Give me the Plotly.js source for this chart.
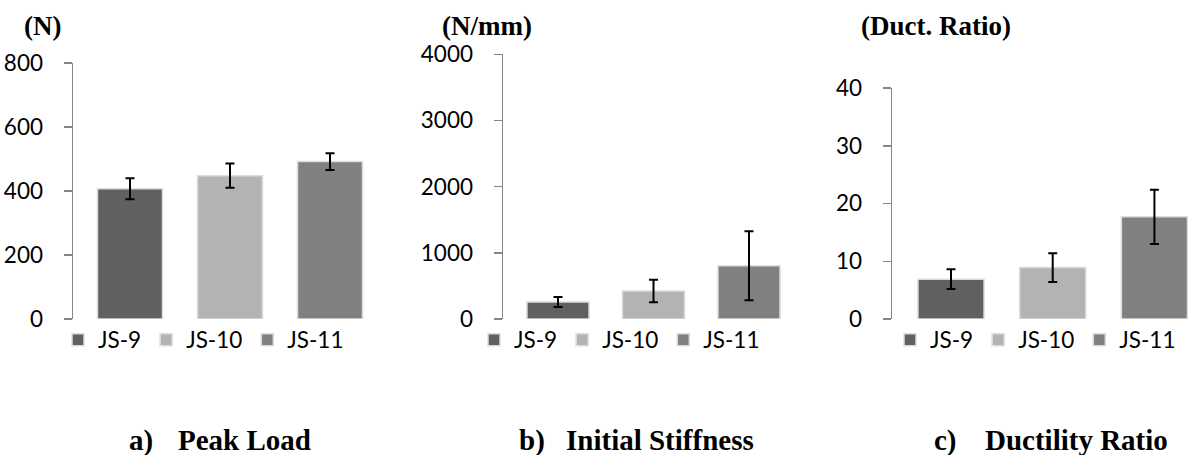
<!DOCTYPE html>
<html><head><meta charset="utf-8">
<script src="https://cdn.plot.ly/plotly-3.0.1.min.js"></script>
<style>html,body{margin:0;padding:0;background:#fff}#chart{width:1188px;height:455px}</style>
</head><body><div id="chart"></div>
<script>
// ---- data ----
const specimens = ['JS-9', 'JS-10', 'JS-11'];
const peakLoad = [407, 448, 492];
const peakLoadErr = [33, 38, 26];
const stiffness = [258, 425, 805];
const stiffnessErr = [76, 170, 522];
const ductility = [6.9, 8.9, 17.7];
const ductilityErr = [1.7, 2.5, 4.7];
const unitLabels = ['(N)', '(N/mm)', '(Duct. Ratio)'];
const captionLetters = ['a)', 'b)', 'c)'];
const captionNames = ['Peak Load', 'Initial Stiffness', 'Ductility Ratio'];
const yMax = [800, 4000, 40];
const yStep = [200, 1000, 10];

// ---- styles / layout ----
const W = 1188, H = 455;
const barColors = ['#606060', '#b3b3b3', '#808080'];
const tickFont = {family: 'Lato, "Open Sans", sans-serif', size: 22.5, color: '#000'};
const serif = 'Liberation Serif, "Times New Roman", serif';
const axisColor = '#868686';

const values = [peakLoad, stiffness, ductility];
const errors = [peakLoadErr, stiffnessErr, ductilityErr];

// pixel geometry of each panel
const panels = [
  {left: 73, right: 387, top: 63, bottom: 319, xr: [-0.57, 2.57], legX: 58, unitX: 42.5, capA: 127, capN: 176},
  {left: 503, right: 804, top: 54.3, bottom: 319, xr: [-0.576, 2.576], legX: 474, unitX: 487, capA: 517, capN: 564},
  {left: 892, right: 1188, top: 88, bottom: 319, xr: [-0.58, 2.33], legX: 890, unitX: 936, capA: 932, capN: 983}
];

const traces = [];
const layout = {
  width: W, height: H,
  margin: {l: 0, r: 0, t: 0, b: 0},
  paper_bgcolor: '#fff', plot_bgcolor: 'rgba(0,0,0,0)',
  barmode: 'overlay', bargap: 0.35,
  annotations: [],
  hovermode: false
};

panels.forEach((p, k) => {
  const sx = k === 0 ? '' : String(k + 1);
  const legName = 'legend' + sx;
  specimens.forEach((s, i) => {
    traces.push({
      type: 'bar',
      name: s,
      x: [s],
      y: [values[k][i]],
      error_y: {type: 'data', array: [errors[k][i]], visible: true, color: '#000', thickness: 2, width: 4.5},
      marker: {color: barColors[i], line: {color: '#dcdcdc', width: 1.5}},
      xaxis: 'x' + sx, yaxis: 'y' + sx,
      legend: legName,
      showlegend: true
    });
  });
  layout['xaxis' + sx] = {
    domain: [p.left / W, p.right / W],
    range: p.xr,
    type: 'category', categoryorder: 'array', categoryarray: specimens,
    showticklabels: false, showgrid: false, zeroline: false, showline: false, ticks: '',
    anchor: 'y' + sx, fixedrange: true
  };
  layout['yaxis' + sx] = {
    domain: [1 - p.bottom / H, 1 - p.top / H],
    range: [0, yMax[k]], dtick: yStep[k], tick0: 0,
    showgrid: false, zeroline: false,
    showline: true, linecolor: axisColor, linewidth: 1.5,
    ticks: 'outside', ticklen: 8, tickwidth: 1.5, tickcolor: axisColor,
    ticklabelstandoff: 16,
    tickfont: tickFont,
    anchor: 'x' + sx, fixedrange: true
  };
  layout[legName] = {
    orientation: 'h',
    x: p.legX / W, xanchor: 'left',
    y: 1 - 340 / H, yanchor: 'middle',
    font: tickFont,
    bgcolor: 'rgba(0,0,0,0)', borderwidth: 0,
    traceorder: 'normal'
  };
  layout.annotations.push({
    text: '<b>' + unitLabels[k] + '</b>',
    xref: 'paper', yref: 'paper',
    x: p.unitX / W, xanchor: 'center',
    y: 1 - 26 / H, yanchor: 'middle',
    showarrow: false,
    font: {family: serif, size: 27, color: '#000'}
  });
  layout.annotations.push({
    text: '<b>' + captionLetters[k] + '</b>',
    xref: 'paper', yref: 'paper',
    x: p.capA / W, xanchor: 'left',
    y: 1 - 440 / H, yanchor: 'middle',
    showarrow: false,
    font: {family: serif, size: 29, color: '#000'}
  });
  layout.annotations.push({
    text: '<b>' + captionNames[k] + '</b>',
    xref: 'paper', yref: 'paper',
    x: p.capN / W, xanchor: 'left',
    y: 1 - 440 / H, yanchor: 'middle',
    showarrow: false,
    font: {family: serif, size: 29, color: '#000'}
  });
});

Plotly.newPlot('chart', traces, layout, {displayModeBar: false, staticPlot: true});
</script>
</body></html>
